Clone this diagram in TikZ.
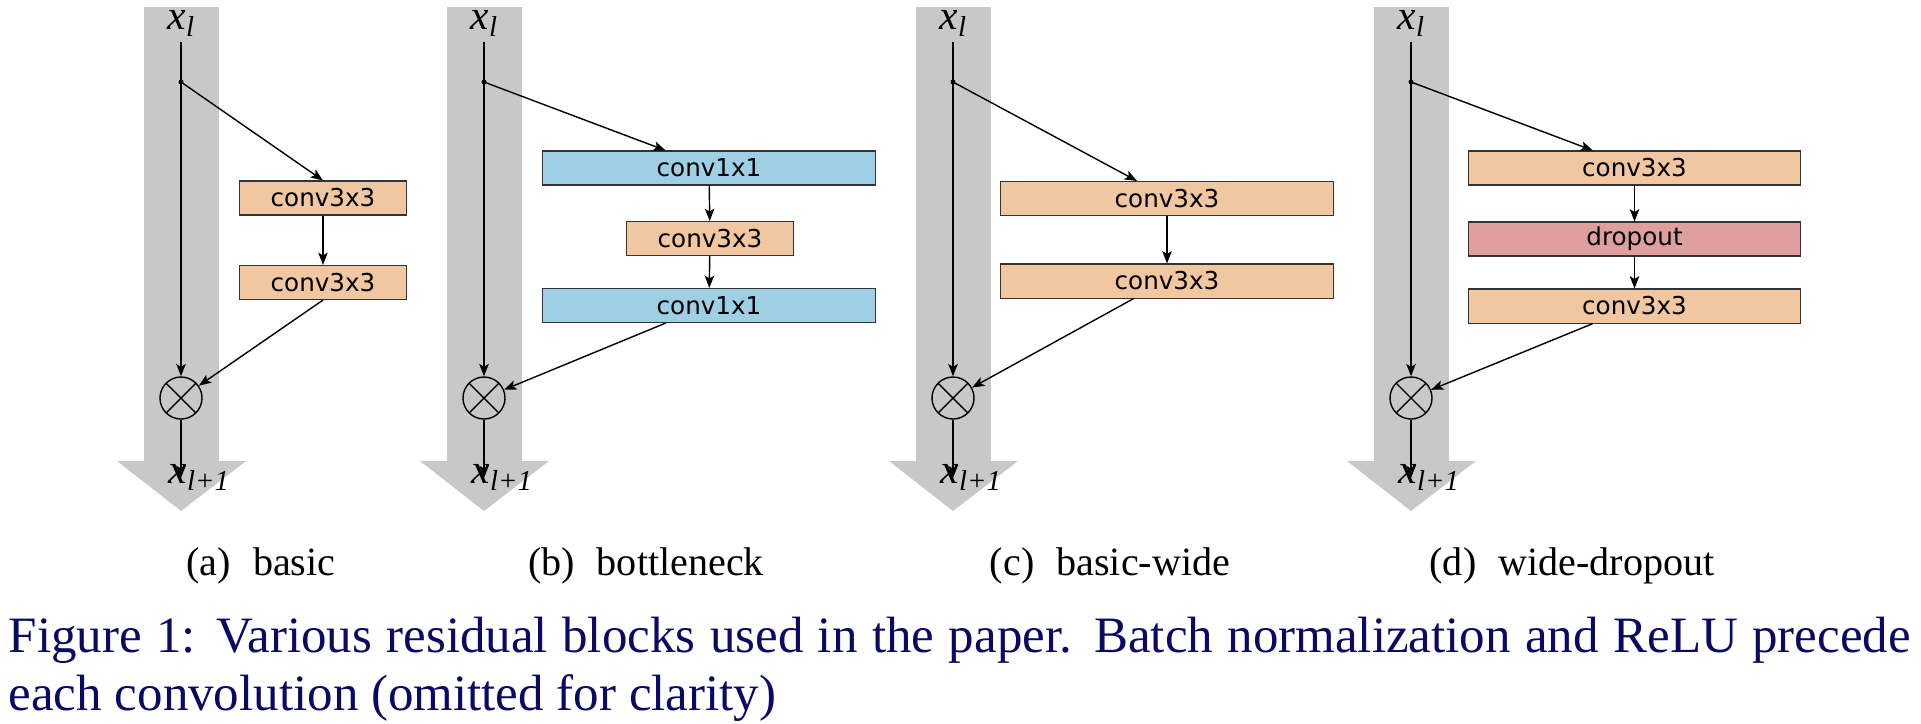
\documentclass[tikz,border=0pt]{standalone}
\usepackage{fontspec}
\setmainfont{Liberation Serif}
\newfontfamily\boxfont{DejaVu Sans}
\usetikzlibrary{arrows.meta,calc}

\definecolor{barGray}{RGB}{200,200,200}
\definecolor{convPeach}{RGB}{240,199,160}
\definecolor{convBlue}{RGB}{158,207,229}
\definecolor{dropPink}{RGB}{224,159,159}
\definecolor{capNavy}{RGB}{10,10,100}

\newcommand{\xsub}[1]{\textit{x}\raisebox{-2.2pt}{\fontsize{8.2}{9}\selectfont\textit{#1}}}

\begin{document}
\begin{tikzpicture}[x=0.01cm,y=-0.01cm,
    >={Stealth[length=3.5pt,width=2.7pt,inset=0.8pt]},
    flow/.style={->,line width=0.4pt},
    layer/.style={draw=black!80,line width=0.3pt,minimum height=0.34cm,inner sep=0pt,
        font=\boxfont\fontsize{7}{8}\selectfont},
    narrow/.style={layer,minimum width=1.66cm},
    wide/.style={layer,minimum width=3.32cm},
    dot/.style={circle,fill,inner sep=0pt,minimum size=0.05cm},
    plus/.style={circle,draw,line width=0.4pt,minimum size=0.42cm,inner sep=0pt,
        path picture={\draw[line width=0.4pt]
            (path picture bounding box.south west) -- (path picture bounding box.north east)
            (path picture bounding box.north west) -- (path picture bounding box.south east);}},
    xlab/.style={inner sep=0pt,font=\fontsize{11.8}{13}\selectfont},
    subcap/.style={anchor=base,font=\fontsize{11.4}{13}\selectfont},
    figcap/.style={anchor=base west,text=capNavy,inner sep=0pt,font=\fontsize{14.5}{17}\selectfont}]
    \useasboundingbox (0,0) rectangle (1921,723);
    \foreach \i/\lx/\cx/\cap in {a/181/261/basic, b/484/646/bottleneck, c/953/1110/basic-wide, d/1411/1572/wide-dropout}{
        \fill[barGray] ({\lx-37.5},7) rectangle ({\lx+37.5},461);
        \fill[barGray] ({\lx-64},461) -- ({\lx+65},461) -- (\lx,511) -- cycle;
        \node[xlab,anchor=base west] at ({\lx-14},29) {\xsub{l}};
        \coordinate (T\i) at (\lx,42);
        \node[dot] (D\i) at (\lx,82) {};
        \node[plus] (P\i) at (\lx,398) {};
        \coordinate (E\i) at (\lx,478);
        \draw[line width=0.4pt] (T\i) -- (D\i.center);
        \draw[flow] (D\i.center) -- (P\i);
        \draw[flow] (P\i) -- (E\i);
        \node[xlab,anchor=base west] at ({\lx-13},483) {\xsub{l+1}};
        \node[subcap] at (\cx,575) {(\i)\hspace{0.55em}\cap};
    }
    % basic
    \node[narrow,fill=convPeach] (a1) at (323,198) {conv3x3};
    \node[narrow,fill=convPeach] (a2) at (323,282.5) {conv3x3};
    \draw[flow] (Da.center) -- (a1.north);
    \draw[flow] (a1) -- (a2);
    \draw[flow] (a2.south) -- (Pa);
    % bottleneck
    \node[wide,fill=convBlue] (b1) at (709,168) {conv1x1};
    \node[narrow,fill=convPeach] (b2) at (710,238.5) {conv3x3};
    \node[wide,fill=convBlue] (b3) at (709,305.5) {conv1x1};
    \draw[flow] (Db.center) -- ($(b1.north west)!0.37!(b1.north east)$);
    \draw[flow] (b1) -- (b2);
    \draw[flow] (b2) -- (b3);
    \draw[flow] ($(b3.south west)!0.37!(b3.south east)$) -- (Pb);
    % basic-wide
    \node[wide,fill=convPeach] (c1) at (1167,198.5) {conv3x3};
    \node[wide,fill=convPeach] (c2) at (1167,281) {conv3x3};
    \draw[flow] (Dc.center) -- ($(c1.north west)!0.41!(c1.north east)$);
    \draw[flow] (c1) -- (c2);
    \draw[flow] ($(c2.south west)!0.40!(c2.south east)$) -- (Pc);
    % wide-dropout
    \node[wide,fill=convPeach] (d1) at (1634.5,168) {conv3x3};
    \node[wide,fill=dropPink] (d2) at (1634.5,239) {dropout};
    \node[wide,fill=convPeach] (d3) at (1634.5,306) {conv3x3};
    \draw[flow] (Dd.center) -- ($(d1.north west)!0.375!(d1.north east)$);
    \draw[flow] (d1) -- (d2);
    \draw[flow] (d2) -- (d3);
    \draw[flow] ($(d3.south west)!0.375!(d3.south east)$) -- (Pd);
    \node[figcap] (cap1) at (8,652) {\makebox[19.01cm][s]{Figure 1: Various residual blocks used in the paper. Batch normalization and ReLU precede}};
    \node[figcap] (cap2) at (8,710) {each convolution (omitted for clarity)};
\end{tikzpicture}
\end{document}
